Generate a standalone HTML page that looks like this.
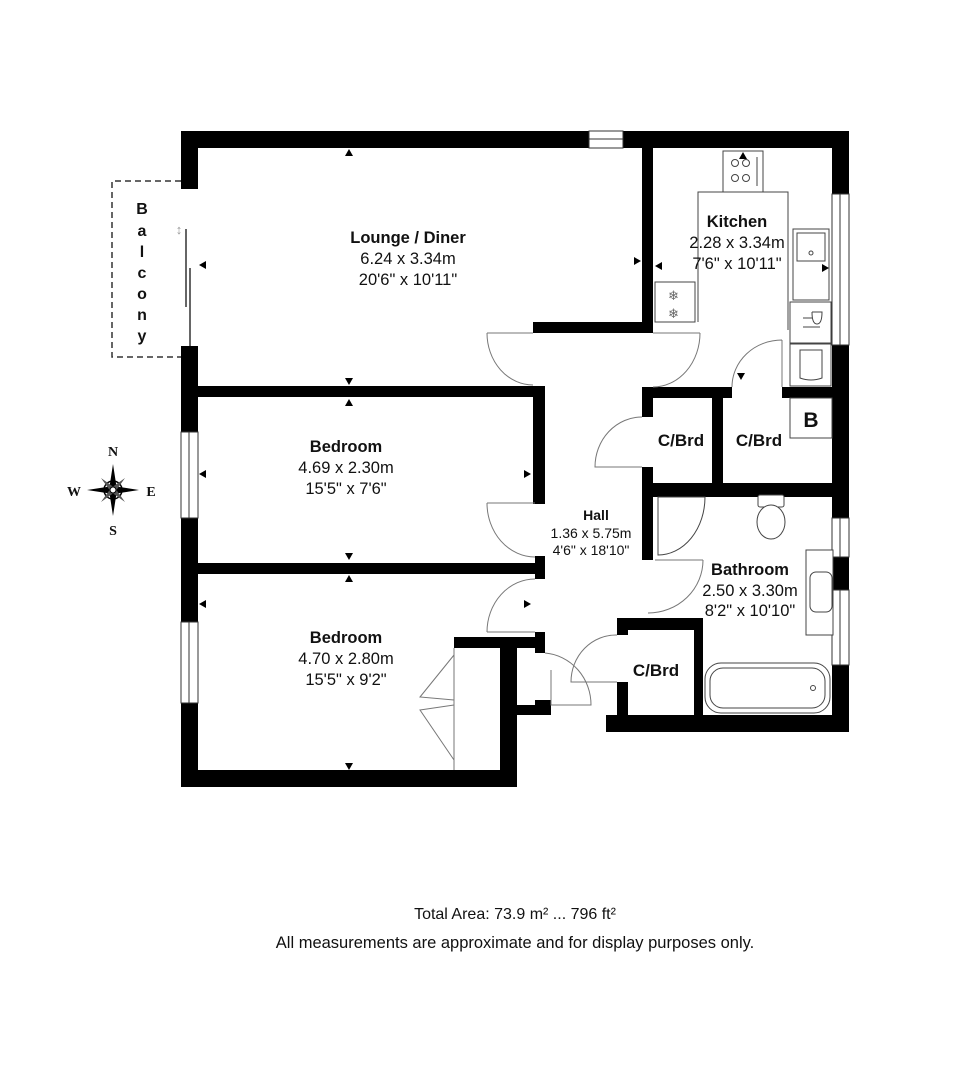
<!DOCTYPE html>
<html><head><meta charset="utf-8"><style>
html,body{margin:0;padding:0;background:#fff}
svg{display:block}
text{font-family:"Liberation Sans",Arial,sans-serif;fill:#111}
.b{font-weight:bold}
</style></head><body>
<svg width="980" height="1091" viewBox="0 0 980 1091" xmlns="http://www.w3.org/2000/svg">
<rect width="980" height="1091" fill="#fff"/>
<path d="M181 181 H112 V357 H181" fill="none" stroke="#333" stroke-width="1.5" stroke-dasharray="6,4"/>
<g font-size="16" text-anchor="middle">
<text x="142" y="214" class="b">B</text><text x="142" y="236" class="b">a</text><text x="142" y="257" class="b">l</text><text x="142" y="278" class="b">c</text><text x="142" y="299" class="b">o</text><text x="142" y="320" class="b">n</text><text x="142" y="341" class="b">y</text>
</g>
<g fill="#000">
<rect x="181" y="131" width="668" height="17"/>
<rect x="181" y="131" width="17" height="58"/>
<rect x="181" y="346" width="17" height="441"/>
<rect x="181" y="770" width="336" height="17"/>
<rect x="500" y="638" width="17" height="149"/>
<rect x="832" y="131" width="17" height="601"/>
<rect x="606" y="715" width="243" height="17"/>
<rect x="642" y="148" width="11" height="185"/>
<rect x="533" y="322" width="120" height="11"/>
<rect x="198" y="386" width="347" height="11"/>
<rect x="533" y="386" width="12" height="118"/>
<rect x="198" y="563" width="347" height="11"/>
<rect x="535" y="556" width="10" height="23"/>
<rect x="535" y="632" width="10" height="21"/>
<rect x="454" y="637" width="91" height="11"/>
<rect x="513" y="705" width="38" height="10"/>
<rect x="535" y="700" width="16" height="15"/>
<rect x="642" y="387" width="90" height="11"/>
<rect x="782" y="387" width="67" height="11"/>
<rect x="642" y="387" width="11" height="30"/>
<rect x="642" y="467" width="11" height="93"/>
<rect x="712" y="398" width="11" height="85"/>
<rect x="642" y="483" width="207" height="14"/>
<rect x="617" y="618" width="86" height="12"/>
<rect x="617" y="618" width="11" height="17"/>
<rect x="617" y="682" width="11" height="35"/>
<rect x="694" y="630" width="9" height="87"/>
</g>
<g fill="#fff" stroke="#333" stroke-width="1">
<rect x="589" y="131" width="34" height="17"/><line x1="589" y1="139" x2="623" y2="139"/>
<rect x="832" y="194" width="17" height="151"/><line x1="840" y1="194" x2="840" y2="345"/>
<rect x="181" y="432" width="17" height="86"/><line x1="189" y1="432" x2="189" y2="518"/>
<rect x="181" y="622" width="17" height="81"/><line x1="189" y1="622" x2="189" y2="703"/>
<rect x="832" y="518" width="17" height="39"/><line x1="840" y1="518" x2="840" y2="557"/>
<rect x="832" y="590" width="17" height="75"/><line x1="840" y1="590" x2="840" y2="665"/>
</g>
<line x1="186" y1="229" x2="186" y2="307" stroke="#333" stroke-width="1.5"/>
<line x1="190" y1="268" x2="190" y2="346" stroke="#333" stroke-width="1.5"/>
<text x="179" y="234" font-size="13" text-anchor="middle" style="fill:#999">↕</text>
<g fill="none" stroke="#777" stroke-width="1">
<path d="M487 333 H533 M487 333 A46 52 0 0 0 533 385"/>
<path d="M700 333 H653 M700 333 A47 54 0 0 1 653 387"/>
<path d="M782 340 V387 M782 340 A50 47 0 0 0 732 387"/>
<path d="M642 417 A47 50 0 0 0 595 467 H642"/>
<path d="M487 503 H535 M487 503 A48 54 0 0 0 535 557"/>
<path d="M487 632 H535 M487 632 A48 53 0 0 1 535 579"/>
<path d="M655 560 H703 M703 560 A55 53 0 0 1 648 613"/>
<path d="M545 653 A50 52 0 0 1 591 705 H551 V670"/>
<path d="M617 635 A45 47 0 0 0 571 682 H617"/>
<path d="M454 655 L420 697 L454 700 M454 705 L420 710 L454 760"/>
<line x1="454" y1="648" x2="454" y2="770"/>
</g>
<g fill="#fff" stroke="#444" stroke-width="1">
<path d="M698 322 V192 H788 V330"/>
<rect x="723" y="151" width="40" height="41"/>
<circle cx="735" cy="163" r="3.5"/><circle cx="746" cy="163" r="3.5"/><circle cx="735" cy="178" r="3.5"/><circle cx="746" cy="178" r="3.5"/>
<line x1="757" y1="157" x2="757" y2="186"/>
<rect x="793" y="229" width="36" height="71"/><rect x="797" y="233" width="28" height="28"/><circle cx="811" cy="253" r="2"/>
<rect x="790" y="302" width="41" height="41"/><rect x="790" y="344" width="41" height="42"/>
<path d="M800 350 H822 V378 Q811 382 800 378 Z"/>
<rect x="655" y="282" width="40" height="40"/>
<rect x="790" y="398" width="42" height="40"/>
<rect x="758" y="495" width="26" height="12" rx="2"/>
<ellipse cx="771" cy="522" rx="14" ry="17"/>
<path d="M658 497 H705 A47 58 0 0 1 658 555 Z"/>
<rect x="806" y="550" width="27" height="85"/>
<rect x="810" y="572" width="22" height="40" rx="6"/>
<rect x="705" y="663" width="125" height="50" rx="16"/>
<rect x="710" y="668" width="115" height="40" rx="13"/>
<circle cx="813" cy="688" r="2.5"/>
</g>
<text x="668" y="300" font-size="13" style="fill:#666">❄</text>
<text x="668" y="318" font-size="13" style="fill:#666">❄</text>
<text x="811" y="427" font-size="21" class="b" text-anchor="middle">B</text>
<g stroke="#444" fill="none"><path d="M803 318 H812 M812 312 H822 Q822 324 817 324 Q812 324 812 312 M803 327 H820"/></g>
<g fill="#000">
<path d="M345 156 l4 -7 l4 7z"/><path d="M345 378 l4 7 l4 -7z"/><path d="M345 406 l4 -7 l4 7z"/>
<path d="M206 261 l-7 4 l7 4z"/><path d="M634 257 l7 4 l-7 4z"/><path d="M662 262 l-7 4 l7 4z"/>
<path d="M739 159 l4 -7 l4 7z"/><path d="M822 264 l7 4 l-7 4z"/><path d="M737 373 l4 7 l4 -7z"/>
<path d="M206 470 l-7 4 l7 4z"/><path d="M524 470 l7 4 l-7 4z"/>
<path d="M345 553 l4 7 l4 -7z"/><path d="M345 582 l4 -7 l4 7z"/>
<path d="M206 600 l-7 4 l7 4z"/><path d="M524 600 l7 4 l-7 4z"/><path d="M345 763 l4 7 l4 -7z"/>
</g>
<g text-anchor="middle">
<text x="408" y="243" font-size="16.5" class="b">Lounge / Diner</text>
<text x="408" y="264" font-size="16.5">6.24 x 3.34m</text>
<text x="408" y="285" font-size="16.5">20'6" x 10'11"</text>
<text x="737" y="227" font-size="16.5" class="b">Kitchen</text>
<text x="737" y="248" font-size="16.5">2.28 x 3.34m</text>
<text x="737" y="269" font-size="16.5">7'6" x 10'11"</text>
<text x="346" y="452" font-size="16.5" class="b">Bedroom</text>
<text x="346" y="473" font-size="16.5">4.69 x 2.30m</text>
<text x="346" y="494" font-size="16.5">15'5" x 7'6"</text>
<text x="596" y="520" font-size="14" class="b">Hall</text>
<text x="591" y="538" font-size="14">1.36 x 5.75m</text>
<text x="591" y="555" font-size="14">4'6" x 18'10"</text>
<text x="750" y="575" font-size="16.5" class="b">Bathroom</text>
<text x="750" y="596" font-size="16.5">2.50 x 3.30m</text>
<text x="750" y="616" font-size="16.5">8'2" x 10'10"</text>
<text x="346" y="643" font-size="16.5" class="b">Bedroom</text>
<text x="346" y="664" font-size="16.5">4.70 x 2.80m</text>
<text x="346" y="685" font-size="16.5">15'5" x 9'2"</text>
<text x="681" y="446" font-size="17" class="b">C/Brd</text>
<text x="759" y="446" font-size="17" class="b">C/Brd</text>
<text x="656" y="676" font-size="17" class="b">C/Brd</text>
<text x="515" y="919" font-size="16">Total Area: 73.9 m² ... 796 ft²</text>
<text x="515" y="948" font-size="16.5">All measurements are approximate and for display purposes only.</text>
</g>
<g transform="translate(113,490)">
<circle r="9" fill="none" stroke="#000" stroke-width="1.5"/>
<path d="M0 -26 L4 0 L0 26 L-4 0Z M-26 0 L0 -4 L26 0 L0 4Z" fill="#000"/>
<path d="M-12 -12 L2 -2 L12 12 L-2 2Z M12 -12 L2 2 L-12 12 L-2 -2Z" fill="#555"/>
<circle r="3" fill="#fff" stroke="#000"/>
</g>
<g font-size="14" text-anchor="middle">
<text x="113" y="456" style="font-family:'Liberation Serif',serif;font-weight:bold">N</text>
<text x="113" y="535" style="font-family:'Liberation Serif',serif;font-weight:bold">S</text>
<text x="74" y="496" style="font-family:'Liberation Serif',serif;font-weight:bold">W</text>
<text x="151" y="496" style="font-family:'Liberation Serif',serif;font-weight:bold">E</text>
</g>
</svg>
</body></html>
